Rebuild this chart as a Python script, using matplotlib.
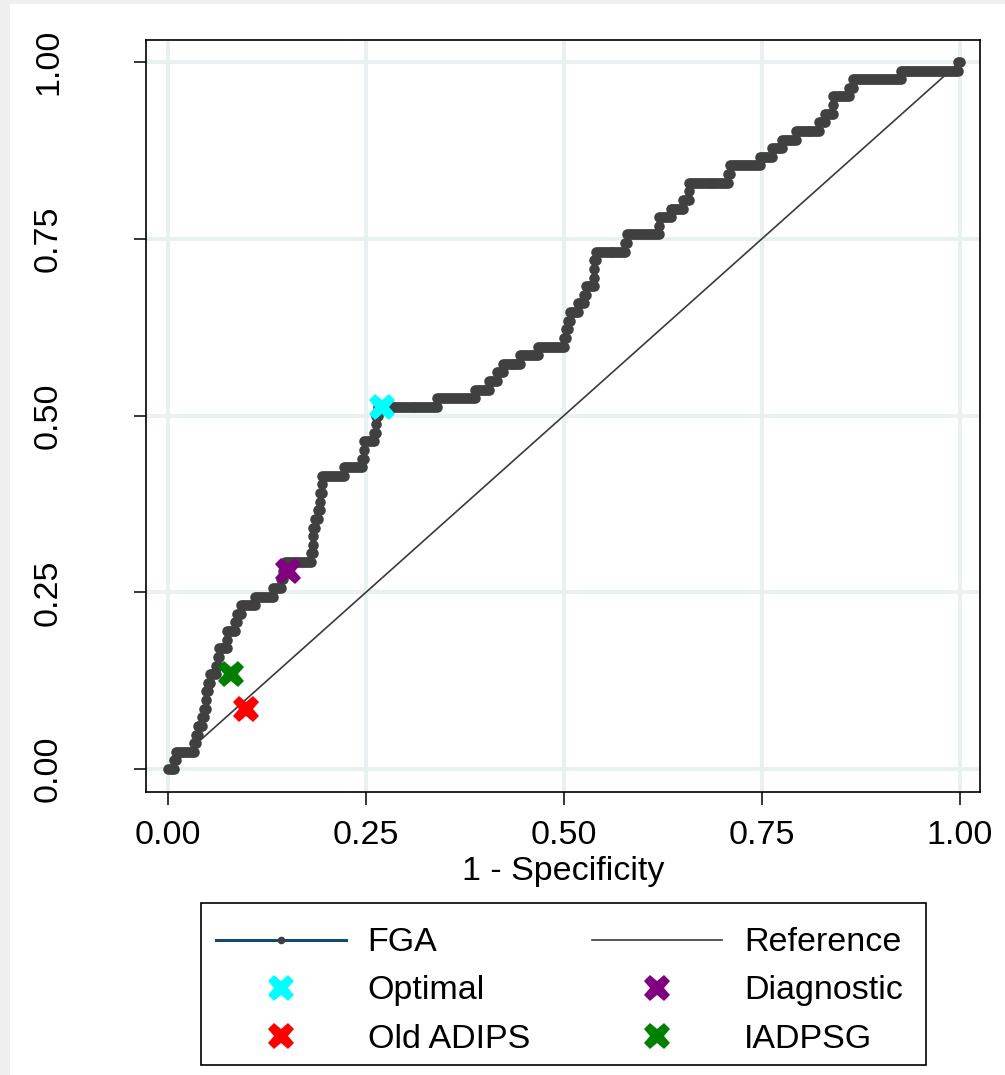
import numpy as np
import matplotlib
matplotlib.use("Agg")
import matplotlib.pyplot as plt
from matplotlib import rcParams
from matplotlib.patches import Rectangle
from matplotlib.lines import Line2D

# ROC data for FGA: counts of negatives ranked above each positive case
n_neg = 400
n_pos = 82
fp_at_pos = [3, 4, 13, 14, 15, 17, 18, 19, 19, 20, 21, 24, 25, 26, 30, 30, 34, 35, 37, 44,
             53, 57, 58, 59, 72, 73, 73, 73, 74, 76, 77, 77, 78, 78, 89, 98, 99, 99, 104, 105,
             105, 106, 136, 155, 162, 166, 169, 178, 187, 200, 201, 202, 203, 207, 210, 211, 215, 215, 215, 216,
             231, 232, 248, 248, 254, 260, 263, 263, 283, 284, 299, 305, 310, 317, 329, 332, 336, 336, 344, 346,
             370, 399]

# cut-off points (1 - specificity, sensitivity)
cut_names = ["Optimal", "Diagnostic", "Old ADIPS", "IADPSG"]
cut_x = [0.270, 0.152, 0.098, 0.080]
cut_y = [0.512, 0.280, 0.085, 0.134]
cut_colors = ["#00ffff", "#800080", "#ff0000", "#008000"]

ticks = [0.0, 0.25, 0.5, 0.75, 1.0]
tick_labels = ["0.00", "0.25", "0.50", "0.75", "1.00"]


def roc_points(fp_at_pos, n_neg):
    fp = 0
    xs, ys = [0], [0]
    for k, b in enumerate(fp_at_pos):
        while fp < b:
            fp += 1
            xs.append(fp); ys.append(k)
        xs.append(fp); ys.append(k + 1)
    while fp < n_neg:
        fp += 1
        xs.append(fp); ys.append(len(fp_at_pos))
    return np.array(xs) / n_neg, np.array(ys) / len(fp_at_pos)


rcParams['font.family'] = ['Liberation Sans', 'DejaVu Sans']
rcParams['font.size'] = 24.5

W, H = 1005, 1075
fig = plt.figure(figsize=(W / 100, H / 100), dpi=100)
fig.patch.set_facecolor('#efefef')
fig.add_artist(Rectangle((10 / W, 0), 1, 1 - 4 / H, transform=fig.transFigure,
                         facecolor='white', edgecolor='none', zorder=-10))

ax = fig.add_axes([146 / W, 1 - 792 / H, (980 - 146) / W, (792 - 40) / H])
ax.set_xlim(-0.0278, 1.0253)
ax.set_ylim(-0.0325, 1.0311)

for t in ticks:
    ax.axvline(t, color='#e8f0f2', lw=2.8, zorder=0)
    ax.axhline(t, color='#e8f0f2', lw=2.8, zorder=0)

x, y = roc_points(fp_at_pos, n_neg)
ax.plot([0, 1], [0, 1], color='#3a3a3a', lw=1.2, zorder=2)
ax.plot(x, y, color='#1a476f', lw=1.5, marker='o', ms=7.6, mfc='#404040', mec='#404040',
        mew=0, zorder=3)
for cx, cy, cc in zip(cut_x, cut_y, cut_colors):
    ax.plot([cx], [cy], marker='X', ms=19, color=cc, mew=0, ls='none', zorder=5)

ax.set_xticks(ticks)
ax.set_xticklabels(tick_labels)
ax.set_yticks(ticks)
ax.set_yticklabels(tick_labels, rotation=90, va='center')
ax.tick_params(axis='both', direction='out', length=9, width=1.1, colors='black')
ax.tick_params(axis='x', pad=11)
ax.tick_params(axis='y', pad=50)
for s in ax.spines.values():
    s.set_linewidth(1.2)
ax.set_xlabel('1 - Specificity', labelpad=4)

# legend, filled column by column; box drawn separately
fga_h = Line2D([], [], color='#1a476f', lw=2.2, marker='o', ms=5.5, mfc='#404040', mec='#404040', mew=0)
ref_h = Line2D([], [], color='#3a3a3a', lw=1.2)
cut_h = [Line2D([], [], marker='X', ms=19, color=cc, mew=0, ls='none') for cc in cut_colors]
handles = [fga_h, cut_h[0], cut_h[2], ref_h, cut_h[1], cut_h[3]]
labels = ['FGA', cut_names[0], cut_names[2], 'Reference', cut_names[1], cut_names[3]]

fig.legend(handles, labels, ncol=2, loc='center',
           bbox_to_anchor=(201 / W, 1 - 1072 / H, (918 - 201) / W, (1065 - 903) / H),
           mode='expand', borderaxespad=0, fontsize=24.5, handlelength=3.8, handletextpad=0.65,
           labelspacing=0.5, borderpad=0.45, frameon=False)
fig.add_artist(Rectangle((201 / W, 1 - 1065 / H), (926 - 201) / W, (1065 - 903) / H,
                         transform=fig.transFigure, facecolor='none', edgecolor='black', lw=1.2))

fig.savefig('out.png', dpi=100, facecolor=fig.get_facecolor())
